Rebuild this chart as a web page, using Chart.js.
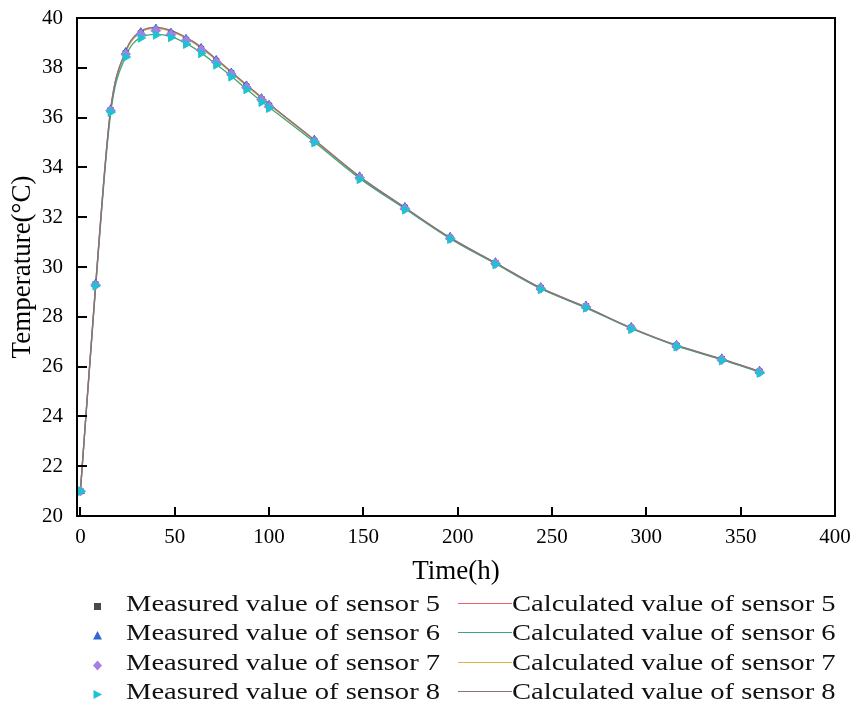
<!DOCTYPE html>
<html>
<head>
<meta charset="utf-8">
<script src="https://cdn.jsdelivr.net/npm/chart.js@4.4.1/dist/chart.umd.min.js"></script>
<style>
  html, body { margin: 0; padding: 0; background: #fff; }
  #wrap { position: relative; width: 854px; height: 706px; overflow: hidden; }
  #c { position: absolute; left: 0; top: 0; }
  .lg { position: absolute; font-family: "Liberation Serif", "Times New Roman", serif; font-size: 24px; color: #111;
        white-space: nowrap; transform: scaleX(1.19); transform-origin: left center; line-height: 28px; }
  .mk { position: absolute; }
</style>
</head>
<body>
<div id="wrap">
  <canvas id="c" width="854" height="706"></canvas>
  <div id="legend"></div>
</div>
<script>
// ---- data ----
const times = [0, 8, 16, 24, 32, 40, 48, 56, 64, 72, 80, 88, 96, 100, 124, 148, 172, 196, 220, 244, 268, 292, 316, 340, 360];

const measured5 = [21.0, 29.3, 36.3, 38.58, 39.38, 39.52, 39.37, 39.12, 38.75, 38.27, 37.78, 37.25, 36.74, 36.48, 35.07, 33.6, 32.38, 31.17, 30.16, 29.16, 28.42, 27.56, 26.84, 26.3, 25.8];
const measured6 = [21.0, 29.32, 36.32, 38.62, 39.42, 39.56, 39.4, 39.15, 38.78, 38.3, 37.8, 37.28, 36.77, 36.5, 35.1, 33.63, 32.4, 31.2, 30.18, 29.18, 28.44, 27.58, 26.86, 26.32, 25.82];
const measured7 = [21.0, 29.28, 36.28, 38.55, 39.35, 39.5, 39.34, 39.1, 38.72, 38.24, 37.75, 37.22, 36.72, 36.45, 35.04, 33.58, 32.35, 31.15, 30.14, 29.14, 28.4, 27.54, 26.82, 26.28, 25.78];
const measured8 = [21.0, 29.25, 36.22, 38.43, 39.2, 39.32, 39.22, 38.95, 38.58, 38.12, 37.64, 37.13, 36.62, 36.38, 35.0, 33.52, 32.3, 31.12, 30.1, 29.1, 28.36, 27.5, 26.8, 26.24, 25.74];

const calc5 = [21.0, 29.2, 36.3, 38.65, 39.45, 39.6, 39.48, 39.2, 38.82, 38.33, 37.82, 37.3, 36.8, 36.55, 35.1, 33.62, 32.38, 31.17, 30.16, 29.15, 28.38, 27.55, 26.85, 26.3, 25.8];
const calc6 = [21.0, 29.1, 36.15, 38.45, 39.22, 39.34, 39.25, 38.98, 38.6, 38.14, 37.66, 37.15, 36.65, 36.42, 35.02, 33.56, 32.34, 31.14, 30.13, 29.13, 28.36, 27.53, 26.83, 26.28, 25.78];
const calc7 = [21.0, 29.18, 36.28, 38.62, 39.42, 39.58, 39.46, 39.18, 38.8, 38.31, 37.8, 37.28, 36.78, 36.53, 35.08, 33.6, 32.37, 31.16, 30.15, 29.14, 28.37, 27.54, 26.84, 26.29, 25.79];
const calc8 = [21.0, 29.22, 36.32, 38.67, 39.47, 39.62, 39.5, 39.22, 38.84, 38.35, 37.84, 37.32, 36.82, 36.56, 35.11, 33.63, 32.39, 31.18, 30.17, 29.16, 28.39, 27.56, 26.86, 26.31, 25.81];

const xTicks = [0, 50, 100, 150, 200, 250, 300, 350, 400];
const yTicks = [20, 22, 24, 26, 28, 30, 32, 34, 36, 38, 40];

const measuredLabels = ["Measured value of sensor 5", "Measured value of sensor 6", "Measured value of sensor 7", "Measured value of sensor 8"];
const calcLabels = ["Calculated value of sensor 5", "Calculated value of sensor 6", "Calculated value of sensor 7", "Calculated value of sensor 8"];

const markerColors = ["#4a4a4a", "#2f68d2", "#a77ee4", "#1ec3cf"];
const lineColors = ["#e8646e", "#3da77c", "#d8b246", "#8c6f82"];

function pts(arr) { return times.map((t, i) => ({ x: t, y: arr[i] })); }

const measuredSets = [measured5, measured6, measured7, measured8];
const calcSets = [calc5, calc6, calc7, calc8];
const styles = ['rect', 'triangle', 'rectRot', 'triangle'];
const rotations = [0, 0, 0, 90];
const radii = [3.8, 4.8, 4.8, 5];
const lineOrder = [13, 11, 12, 10];

const datasets = [];
calcSets.forEach((arr, i) => {
  datasets.push({
    label: calcLabels[i], data: pts(arr), showLine: true,
    borderColor: lineColors[i], borderWidth: 1.3, pointRadius: 0,
    cubicInterpolationMode: 'monotone', fill: false, order: lineOrder[i]
  });
});
measuredSets.forEach((arr, i) => {
  datasets.push({
    label: measuredLabels[i], data: pts(arr), showLine: false,
    pointStyle: styles[i], pointRotation: rotations[i], pointRadius: radii[i],
    backgroundColor: markerColors[i], borderColor: markerColors[i], borderWidth: 1,
    order: 4 - i
  });
});

const FONT = "'Liberation Serif', 'Times New Roman', serif";

const framePlugin = {
  id: 'frame',
  afterDraw(chart) {
    const { ctx, chartArea: a, scales } = chart;
    ctx.save();
    ctx.strokeStyle = '#000';
    ctx.lineWidth = 2;
    ctx.strokeRect(a.left, a.top, a.right - a.left, a.bottom - a.top);
    ctx.beginPath();
    scales.x.ticks.forEach(t => {
      const px = Math.round(scales.x.getPixelForValue(t.value));
      ctx.moveTo(px, a.bottom);
      ctx.lineTo(px, a.bottom - 9);
    });
    scales.y.ticks.forEach(t => {
      const py = Math.round(scales.y.getPixelForValue(t.value));
      ctx.moveTo(a.left, py);
      ctx.lineTo(a.left + 10, py);
    });
    ctx.stroke();
    ctx.restore();
  }
};

new Chart(document.getElementById('c'), {
  type: 'scatter',
  data: { datasets },
  options: {
    responsive: false,
    animation: false,
    layout: { padding: { top: 18, right: 19, bottom: 116, left: 0 } },
    plugins: { legend: { display: false }, tooltip: { enabled: false } },
    scales: {
      x: {
        type: 'linear', min: -1.8, max: 400,
        afterBuildTicks: s => { s.ticks = xTicks.map(v => ({ value: v })); },
        afterFit: s => { s.height = 74; s.paddingLeft = 0; s.paddingRight = 0; },
        grid: { display: false, drawTicks: false },
        border: { display: false },
        ticks: { color: '#000', padding: 9, font: { family: FONT, size: 21 }, maxRotation: 0 },
        title: { display: true, text: 'Time(h)', color: '#000', font: { family: FONT, size: 27 }, padding: { top: 0, bottom: 2 } }
      },
      y: {
        type: 'linear', min: 20, max: 40,
        afterBuildTicks: s => { s.ticks = yTicks.map(v => ({ value: v })); },
        afterFit: s => { s.width = 77; s.paddingTop = 0; s.paddingBottom = 0; },
        grid: { display: false, drawTicks: false },
        border: { display: false },
        ticks: { color: '#000', padding: 14, font: { family: FONT, size: 21 } },
        title: { display: true, text: 'Temperature(°C)', color: '#000', font: { family: FONT, size: 27 }, padding: { top: 7, bottom: 0 } }
      }
    }
  },
  plugins: [framePlugin]
});

// ---- HTML legend ----
const lg = document.getElementById('legend');
const rowY = [603, 632, 662, 691];
function markerSVG(i) {
  const c = markerColors[i];
  let shape;
  if (i === 0) shape = `<rect x="2" y="2" width="7" height="7" fill="${c}"/>`;
  else if (i === 1) shape = `<polygon points="5.5,1 10,9.5 1,9.5" fill="${c}"/>`;
  else if (i === 2) shape = `<polygon points="5.5,0.5 10,5.5 5.5,10.5 1,5.5" fill="${c}"/>`;
  else shape = `<polygon points="1.5,1 10,5.5 1.5,10" fill="${c}"/>`;
  return `<svg width="11" height="11">${shape}</svg>`;
}
rowY.forEach((y, i) => {
  const m = document.createElement('div');
  m.className = 'mk';
  m.style.left = (97 - 5.5) + 'px';
  m.style.top = (y - 5.5) + 'px';
  m.innerHTML = markerSVG(i);
  lg.appendChild(m);

  const t1 = document.createElement('div');
  t1.className = 'lg';
  t1.style.left = '126px';
  t1.style.top = (y - 14) + 'px';
  t1.textContent = measuredLabels[i];
  lg.appendChild(t1);

  const ln = document.createElement('div');
  ln.className = 'mk';
  ln.style.left = '458px';
  ln.style.top = (y - 0.5) + 'px';
  ln.style.width = '54px';
  ln.style.height = '1.3px';
  ln.style.background = lineColors[i];
  lg.appendChild(ln);

  const t2 = document.createElement('div');
  t2.className = 'lg';
  t2.style.left = '512px';
  t2.style.top = (y - 14) + 'px';
  t2.textContent = calcLabels[i];
  lg.appendChild(t2);
});
</script>
</body>
</html>
